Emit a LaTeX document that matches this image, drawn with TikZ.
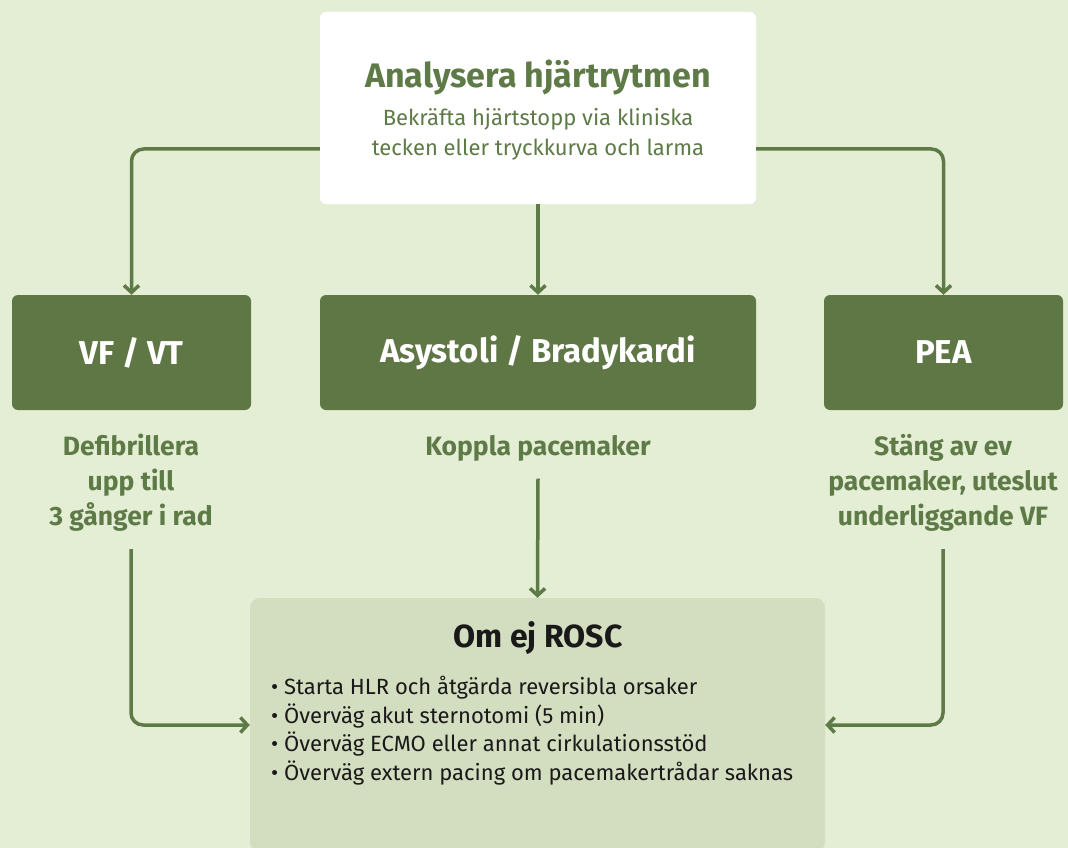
\documentclass[tikz,border=0pt]{standalone}
\usepackage{fontspec}
\setmainfont{Fira Sans}
\usetikzlibrary{arrows.meta}
\usetikzlibrary{positioning}

\definecolor{bggreen}{HTML}{E4EED5}
\definecolor{darkgreen}{HTML}{5E7744}
\definecolor{textgreen}{HTML}{5E7A46}
\definecolor{paleolive}{HTML}{D3DDBF}

\tikzset{
  rhythm/.style={fill=darkgreen, rounded corners=6pt, minimum width=239pt, minimum height=115pt,
    text=white, font=\fontsize{33}{36}\selectfont\bfseries},
  action/.style={text=textgreen, align=center, font=\fontsize{26.5}{35}\selectfont\bfseries},
  flow/.style={draw=textgreen, line width=3.5pt, rounded corners=12pt,
    -{Straight Barb[length=7pt,width=15pt]}},
}

\begin{document}
\begin{tikzpicture}[x=1pt,y=-1pt]
  \fill[bggreen] (0,0) rectangle (1068,848);
  \clip (0,0) rectangle (1068,848);

  % top box
  \node[fill=white, rounded corners=6pt, minimum width=436pt, minimum height=192pt] (analys) at (538,108) {};
  \node[text=textgreen, font=\fontsize{34}{36}\selectfont\bfseries] (title) at (538,77) {Analysera hjärtrytmen};
  \node[text=textgreen, align=center, font=\fontsize{22}{30}\selectfont] (sub) at (538,134)
    {Bekräfta hjärtstopp via kliniska\\tecken eller tryckkurva och larma};

  % rhythms
  \node[rhythm] (vfvt) at (131.5,352.5) {VF / VT};
  \node[rhythm, minimum width=436pt] (asys) at (538,352.5) {Asystoli / Bradykardi};
  \node[rhythm] (pea) at (943.5,352.5) {PEA};

  \node[action] (defib) at (131,483) {Defibrillera\\upp till\\3 gånger i rad};
  \node[action] (koppla) at (538,448) {Koppla pacemaker};
  \node[action] (stang) at (943,483) {Stäng av ev\\pacemaker, uteslut\\underliggande VF};

  % bottom box
  \node[fill=paleolive, rounded corners=10pt, minimum width=575pt, minimum height=254pt] (rosc) at (537.5,725) {};
  \node[font=\fontsize{32}{34}\selectfont\bfseries, text=black!90] (rosctitle) at (538,638) {Om ej ROSC};
  \node[anchor=north west, align=left, inner sep=0pt, font=\fontsize{22}{28.5}\selectfont, text=black!90] (list) at (271,676)
    {• Starta HLR och åtgärda reversibla orsaker\\
     • Överväg akut sternotomi (5 min)\\
     • Överväg ECMO eller annat cirkulationsstöd\\
     • Överväg extern pacing om pacemakertrådar saknas};

  \draw[flow] ([yshift=-41pt]analys.west) -| (vfvt.north);
  \draw[flow] ([yshift=-41pt]analys.east) -| (pea.north);
  \draw[flow] (analys.south) -- (asys.north);
  \draw[flow] ([yshift=-14pt]defib.south) |- (rosc.west);
  \draw[flow] ([yshift=-14pt]koppla.south) -- (rosc.north);
  \draw[flow] ([yshift=-14pt]stang.south) |- (rosc.east);
\end{tikzpicture}
\end{document}
